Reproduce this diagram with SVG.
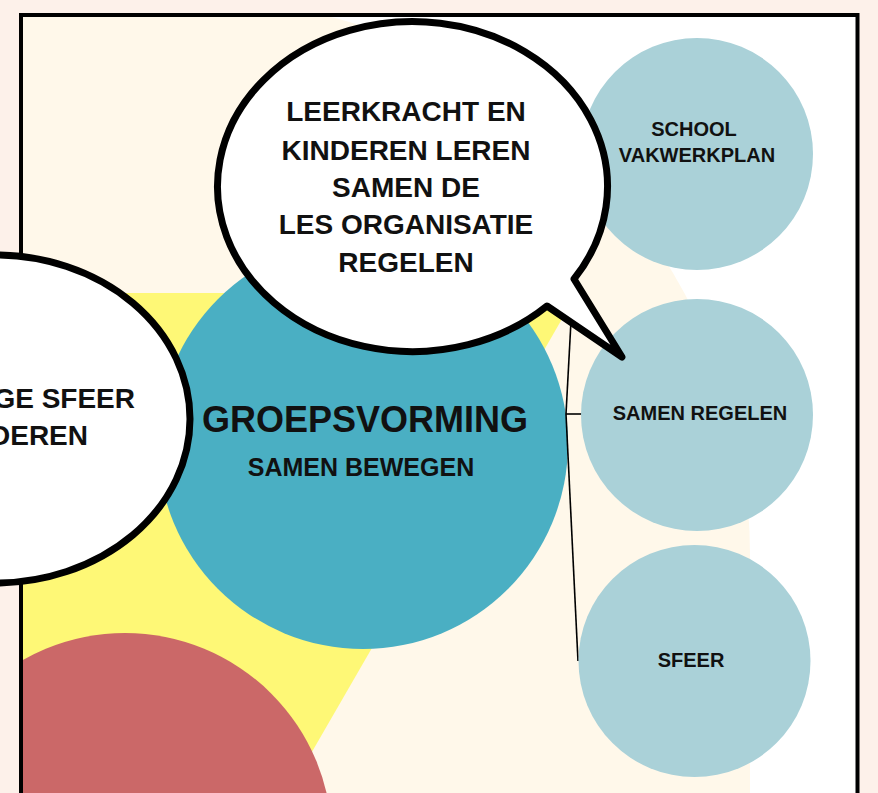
<svg xmlns="http://www.w3.org/2000/svg" width="878" height="793" viewBox="0 0 878 793">
<style>
.t{font-family:"Liberation Sans","DejaVu Sans",Arial,sans-serif;font-weight:bold;fill:#111;text-anchor:middle}
.bub{fill:#fff;stroke:#000;stroke-width:7;stroke-linejoin:round}
.lb{fill:#aad1d8}
.con{stroke:#000;stroke-width:1.6;fill:none}
</style>
<defs>
<clipPath id="inner"><rect x="21" y="15" width="836.5" height="800"/></clipPath>
</defs>
<rect x="0" y="0" width="878" height="793" fill="#fdf1ea"/>
<rect x="21" y="15" width="836.5" height="800" fill="#fff"/>
<g id="background" clip-path="url(#inner)">
<path d="M15,0 H195 A555,555 0 0 1 750,555 V800 H15 Z" fill="#fff8ea"/>
<polygon points="-200,293 577,293 190,963" fill="#fef876"/>
<circle cx="125" cy="840" r="207" fill="#cb6868"/>
</g>
<rect x="21" y="15" width="836.5" height="800" fill="none" stroke="#000" stroke-width="4"/>
<g id="groepsvorming">
<circle cx="363" cy="444" r="205" fill="#4aafc3"/>
<text class="t" x="365" y="432" font-size="36">GROEPSVORMING</text>
<text class="t" x="361" y="476" font-size="25">SAMEN BEWEGEN</text>
</g>
<g id="connectors">
<line class="con" x1="566" y1="414" x2="580" y2="154"/>
<line class="con" x1="566" y1="414" x2="582" y2="414"/>
<line class="con" x1="566" y1="414" x2="578" y2="661"/>
</g>
<g id="school">
<circle class="lb" cx="697" cy="154" r="116"/>
<text class="t" x="694" y="136" font-size="20">SCHOOL</text>
<text class="t" x="697" y="162" font-size="20">VAKWERKPLAN</text>
</g>
<g id="samen-regelen">
<circle class="lb" cx="697" cy="415" r="116"/>
<text class="t" x="700" y="420" font-size="20">SAMEN REGELEN</text>
</g>
<g id="sfeer">
<circle class="lb" cx="694.5" cy="661" r="116"/>
<text class="t" x="691" y="667" font-size="20">SFEER</text>
</g>
<g id="bubble-top">
<path class="bub" d="M574,279 A195,165 0 1 0 547,306 L622,357 Z"/>
<text class="t" x="406" y="121" font-size="28">LEERKRACHT EN</text>
<text class="t" x="406" y="160" font-size="28">KINDEREN LEREN</text>
<text class="t" x="406" y="197" font-size="28">SAMEN DE</text>
<text class="t" x="406" y="234" font-size="28">LES ORGANISATIE</text>
<text class="t" x="406" y="272" font-size="28">REGELEN</text>
</g>
<g id="bubble-left">
<ellipse class="bub" cx="-5" cy="419" rx="195" ry="164"/>
<text class="t" x="135" y="408" font-size="28" style="text-anchor:end">GE SFEER</text>
<text class="t" x="88" y="445" font-size="28" style="text-anchor:end">DEREN</text>
</g>
</svg>
